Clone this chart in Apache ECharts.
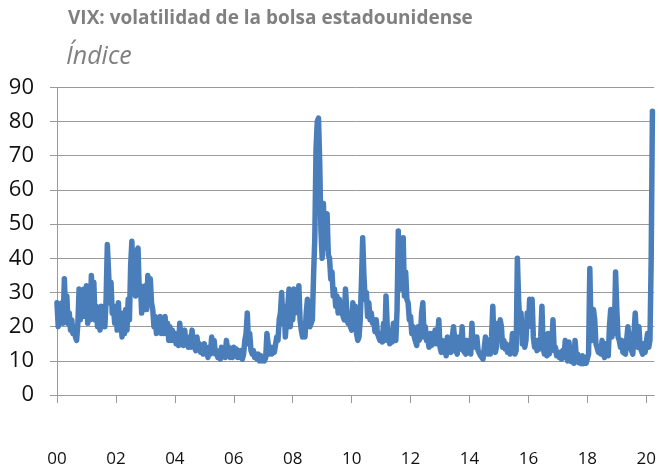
<!DOCTYPE html>
<html>
<head>
<meta charset="utf-8">
<script src="https://cdn.jsdelivr.net/npm/echarts@6/dist/echarts.min.js"></script>
<style>
html,body{margin:0;padding:0;background:#fff;}
#chart{width:659px;height:470px;}
</style>
</head>
<body>
<div id="chart"></div>
<script>
// VIX index, approx. semi-monthly readings (1st and 16th of each month)
const v2000 = [27, 20, 26, 21, 27, 21, 34, 24, 29, 21, 24, 19, 22, 18, 20, 17, 16, 21, 31, 22, 30, 23, 31, 24];
const v2001 = [32, 21, 30, 22, 35, 26, 33, 22, 26, 20, 24, 19, 26, 20, 25, 20, 28, 44, 36, 27, 33, 24, 26, 21];
const v2002 = [26, 19, 27, 20, 22, 17, 24, 18, 25, 19, 28, 22, 38, 45, 30, 40, 29, 42, 43, 30, 32, 24, 30, 25];
const v2003 = [32, 25, 35, 29, 34, 27, 25, 20, 23, 18, 22, 19, 23, 18, 21, 18, 23, 18, 21, 16, 20, 16, 19, 16];
const v2004 = [18, 15, 17, 14.5, 21, 16, 17, 14.5, 19, 15, 16, 14, 17, 14, 19, 15, 15, 13, 17, 14, 15, 12.5, 14, 12];
const v2005 = [15, 12, 13, 11, 14, 12, 17, 13, 16, 12, 13, 11, 12, 10.5, 14, 11.5, 13, 11, 16, 13, 14, 11, 13, 11];
const v2006 = [14, 11.5, 13.5, 11, 13, 11, 13, 10.5, 12, 16, 18, 24, 15, 18, 13, 12, 13, 11, 12, 10.5, 12, 10, 11.5, 10];
const v2007 = [11, 10, 11, 18, 15, 12, 14, 12, 14, 12.5, 13, 17, 16, 22, 24, 30, 21, 26, 17, 22, 26, 31, 20, 25];
const v2008 = [22, 31, 24, 29, 25, 32, 22, 19, 17, 20, 17, 24, 28, 22, 20, 21, 22, 35, 46, 72, 80, 81, 68, 48];
const v2009 = [40, 56, 43, 52, 53, 41, 40, 34, 36, 29, 31, 26, 29, 24, 28, 24, 27, 23, 22, 31, 25, 21, 24, 20];
const v2010 = [19, 27, 22, 26, 18, 16, 17, 22, 33, 46, 35, 28, 30, 23, 27, 22, 24, 21, 22, 18.5, 22, 18, 18, 16];
const v2011 = [18, 15.5, 21, 16, 29, 20, 17, 15, 18, 15.5, 21, 17, 16, 25, 48, 33, 43, 31, 46, 29, 36, 28, 27, 22];
const v2012 = [23, 18, 20, 17, 17, 14.5, 20, 16, 17, 24, 27, 17, 20, 16, 17, 14, 18, 14.5, 18, 15, 19, 15, 17, 22];
const v2013 = [14, 12.5, 16, 12.5, 14, 11.5, 17, 12.5, 14, 12.5, 17, 20, 16, 13, 12, 17, 16, 13.5, 20, 13, 13.5, 12, 16, 13];
const v2014 = [14, 12, 21, 14, 17, 14, 17, 13, 13, 11.5, 12, 10.5, 11, 17, 16, 12, 15, 12, 17, 26, 14, 12.5, 14, 21];
const v2015 = [17, 22, 20, 14, 16, 13.5, 15, 12.5, 14, 12, 13, 18, 17, 12, 13, 40, 28, 21, 24, 15, 18, 14, 16, 24];
const v2016 = [20, 28, 22, 28, 17, 14, 15, 13, 16, 13.5, 17, 26, 14, 12, 13, 11.5, 18, 12, 17, 14, 22, 13, 14, 11.5];
const v2017 = [12.5, 11, 12.5, 10.5, 13, 11, 16, 12, 10, 15.5, 11.5, 9.8, 11, 9.3, 16, 11, 12, 9.5, 10.5, 9.2, 11.5, 9.2, 11, 9.3];
const v2018 = [9.2, 12, 37, 19, 16, 25, 22, 15, 15.5, 12.5, 13.5, 12, 16, 12, 11, 15, 13.5, 11.5, 20, 25, 17, 22, 18, 36];
const v2019 = [25, 17, 16, 14, 16, 12.5, 13, 12, 16, 20, 17, 14, 13, 12, 18, 24, 17, 14, 20, 14, 13, 12, 15, 12.5];
const v2020 = [13, 18, 14, 16, 40, 83];

const years = [2000,2001,2002,2003,2004,2005,2006,2007,2008,2009,2010,2011,2012,2013,2014,2015,2016,2017,2018,2019,2020];
const yearValues = [v2000,v2001,v2002,v2003,v2004,v2005,v2006,v2007,v2008,v2009,v2010,v2011,v2012,v2013,v2014,v2015,v2016,v2017,v2018,v2019,v2020];

const xTicks = [2000,2002,2004,2006,2008,2010,2012,2014,2016,2018,2020];
const xTickLabels = ['00','02','04','06','08','10','12','14','16','18','20'];

const titleText = 'VIX: volatilidad de la bolsa estadounidense';
const subtitleText = 'Índice';

const data = [];
years.forEach((y, i) => {
  yearValues[i].forEach((v, k) => data.push([y + k / 24, v]));
});

const chart = echarts.init(document.getElementById('chart'), null, {renderer: 'canvas'});
const gray = '#9a9a9a';
chart.setOption({
  animation: false,
  backgroundColor: '#fff',
  title: [
    {text: titleText, left: 63, top: 4,
     textStyle: {fontFamily: 'Open Sans', fontWeight: 'bold', fontSize: 19, color: '#808080'}},
    {text: subtitleText, left: 61, top: 39,
     textStyle: {fontFamily: 'Open Sans', fontStyle: 'italic', fontWeight: 'normal', fontSize: 25, color: '#808080'}}
  ],
  grid: {left: 57, right: 1, top: 87.3, bottom: 74.9, containLabel: false},
  xAxis: {
    type: 'value', min: 2000, max: 2020.27,
    axisLine: {show: true, lineStyle: {color: gray, width: 1}},
    axisTick: {show: true, length: 8, customValues: xTicks, lineStyle: {color: gray}},
    axisLabel: {
      customValues: xTicks, margin: 56,
      fontFamily: 'Open Sans', fontSize: 17, color: '#111',
      formatter: v => xTickLabels[xTicks.indexOf(Math.round(v))]
    },
    splitLine: {show: false}
  },
  yAxis: {
    type: 'value', min: 0, max: 90, interval: 10,
    axisLine: {show: true, lineStyle: {color: gray, width: 1}},
    axisTick: {show: true, length: 7, lineStyle: {color: gray}},
    axisLabel: {margin: 23, fontFamily: 'Open Sans', fontSize: 22, color: '#111'},
    splitLine: {show: true, lineStyle: {color: gray, width: 1}}
  },
  series: [{
    type: 'line', data: data, showSymbol: false, symbol: 'none',
    lineStyle: {color: '#4a7ebb', width: 5.5, join: 'round', cap: 'round'},
    itemStyle: {color: '#4a7ebb'}
  }]
});
</script>
</body>
</html>
